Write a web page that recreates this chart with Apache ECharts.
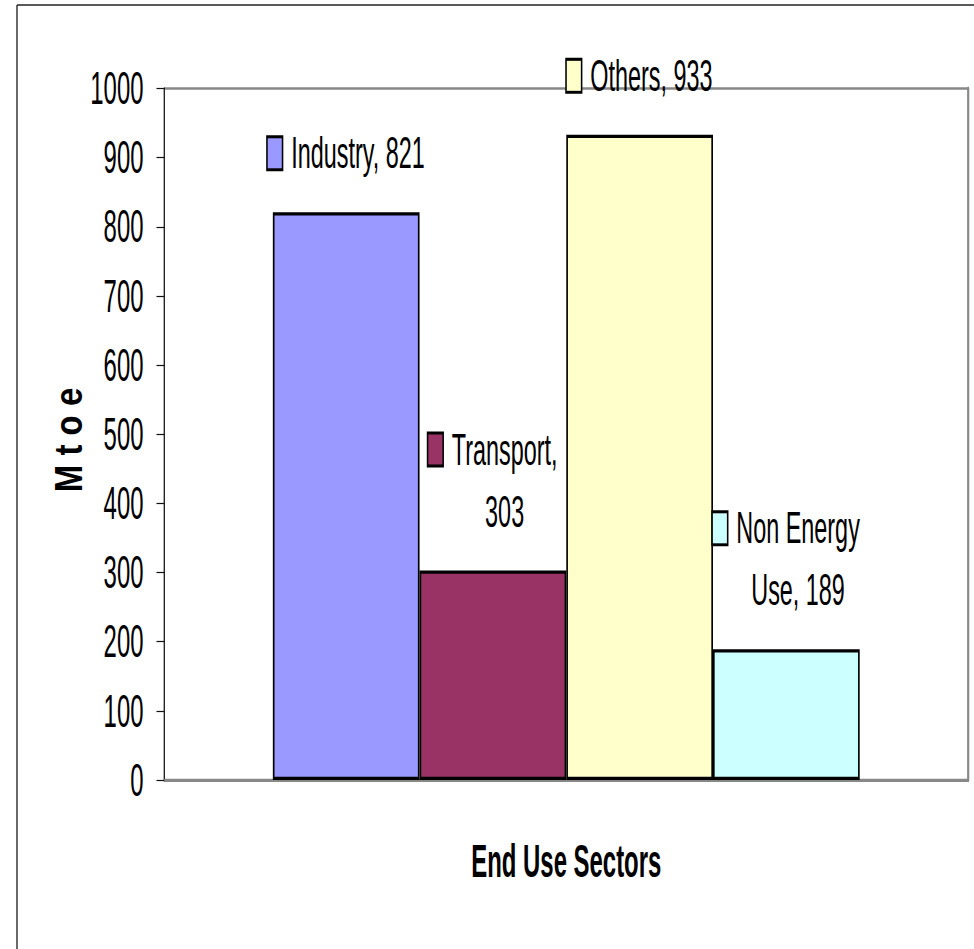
<!DOCTYPE html>
<html>
<head>
<meta charset="utf-8">
<script src="https://cdn.jsdelivr.net/npm/echarts@6/dist/echarts.min.js"></script>
<style>
  html, body { margin: 0; padding: 0; background: #fff; overflow: hidden; }
  #wrap { width: 974px; height: 949px; overflow: hidden; position: relative; }
  /* the drawing is laid out wide, then squeezed horizontally for the condensed look */
  #chart { width: 1873px; height: 949px; transform: scaleX(0.52); transform-origin: 0 0; }
</style>
</head>
<body>
<div id="wrap"><div id="chart"></div></div>
<script>
// Final energy consumption by end-use sector (Mtoe)
const sectors = ['Industry', 'Transport', 'Others', 'Non Energy Use'];
const consumption = [821, 303, 933, 189];
const yAxisTitle = 'M t o e';
const xAxisTitle = 'End Use Sectors';

const palette = ['#9999FF', '#993366', '#FFFFCC', '#CCFFFF'];
const SX = 0.52;                 // horizontal squeeze of the drawing
const FONT = "'Liberation Sans', Arial, sans-serif";

// greedy word wrap used for the data labels
function wrapWords(text, maxChars) {
  const words = text.split(' ');
  const lines = [];
  let cur = '';
  for (const w of words) {
    const next = cur ? cur + ' ' + w : w;
    if (next.length > maxChars && cur) { lines.push(cur); cur = w; }
    else cur = next;
  }
  if (cur) lines.push(cur);
  return lines;
}

const series = sectors.map((name, i) => ({
  name: name,
  type: 'bar',
  data: [consumption[i]],
  barGap: '0%',
  barCategoryGap: '27%',
  itemStyle: { color: palette[i], borderColor: '#000', borderWidth: 3.2 },
  label: {
    show: true,
    position: 'top',
    distance: 28,
    formatter: p => {
      const lines = wrapWords(p.seriesName + ', ' + p.value, 13);
      let s = '{key|}{gap|}{txt|' + lines[0] + '}';
      for (let k = 1; k < lines.length; k++) s += '\n{pad|}{txt|' + lines[k] + '}';
      return s;
    },
    rich: {
      key: { width: 27, height: 30, backgroundColor: palette[i], borderColor: '#000', borderWidth: 3 },
      gap: { width: 18 },
      pad: { width: 45 },
      txt: { fontSize: 45, fontFamily: FONT, color: '#000', lineHeight: 62 }
    }
  }
}));

const chart = echarts.init(document.getElementById('chart'), null, { renderer: 'svg' });
chart.setOption({
  backgroundColor: '#fff',
  animation: false,
  grid: {
    left: 316, right: 11, top: 88.5, bottom: 169,
    show: true, borderColor: '#888', borderWidth: 2.6, backgroundColor: 'transparent'
  },
  xAxis: {
    type: 'category',
    data: [''],
    axisTick: { show: false },
    axisLabel: { show: false },
    axisLine: { show: true, lineStyle: { color: '#888', width: 3 } },
    name: xAxisTitle,
    nameLocation: 'middle',
    nameGap: 58,
    nameTextStyle: { fontSize: 46, fontWeight: 'bold', fontFamily: FONT, color: '#000' }
  },
  yAxis: [{
    type: 'value',
    min: 0, max: 1000, interval: 100,
    axisLine: { show: true, lineStyle: { color: '#111', width: 2 } },
    axisTick: { show: true, length: 15, lineStyle: { color: '#111', width: 1.2 } },
    axisLabel: {
      fontSize: 46, fontFamily: FONT, color: '#000', margin: 40, padding: [0, 0, 9, 0],
      formatter: v => String(v)
    },
    splitLine: { show: false }
  }, {
    type: 'value',
    position: 'right',
    min: 0, max: 1000, interval: 100,
    axisLine: { show: true, lineStyle: { color: '#888', width: 4 } },
    axisTick: { show: false },
    axisLabel: { show: false },
    splitLine: { show: false }
  }],
  series: series,
  graphic: [
    // chart frame (left and top edges)
    { type: 'line', shape: { x1: 17 / SX, y1: 5, x2: 17 / SX, y2: 960 }, style: { stroke: '#222', lineWidth: 2.6 }, silent: true },
    { type: 'line', shape: { x1: 17 / SX, y1: 5, x2: 2000, y2: 5 }, style: { stroke: '#222', lineWidth: 1.4 }, silent: true },
    // value axis title, reading bottom to top
    {
      type: 'text',
      x: 69 / SX, y: 440,
      rotation: Math.PI / 2,
      scaleX: 1.1,
      scaleY: 2.5,
      style: { text: yAxisTitle, font: 'bold 30px ' + FONT, fill: '#000', align: 'center', verticalAlign: 'middle' },
      silent: true
    }
  ]
});
</script>
</body>
</html>
